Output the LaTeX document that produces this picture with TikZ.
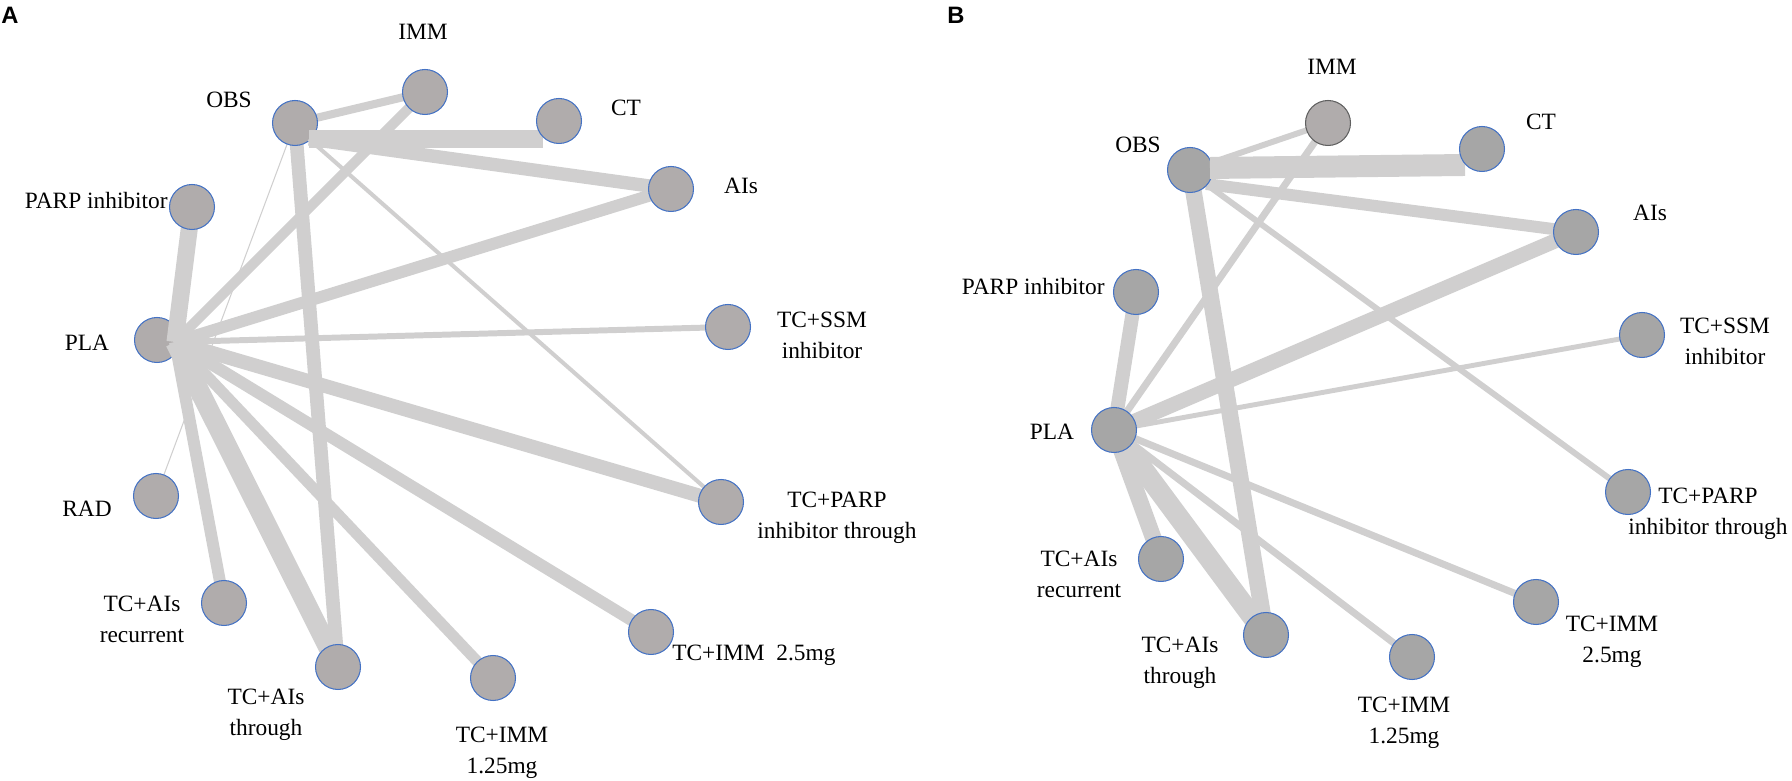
\documentclass[tikz,border=0pt]{standalone}
\usepackage{fontspec}
\setmainfont{Liberation Serif}
\newfontfamily\panelfont{Liberation Sans}
\usetikzlibrary{backgrounds}
\definecolor{linkgray}{RGB}{208,207,207}
\definecolor{dotgray}{RGB}{176,172,172}
\definecolor{dotgrayb}{RGB}{166,166,166}
\definecolor{rimblue}{RGB}{68,114,196}
\definecolor{rimgray}{RGB}{96,96,96}
\pgfdeclarelayer{back}
\pgfdeclarelayer{mid}
\pgfdeclarelayer{hub}
\pgfsetlayers{back,mid,hub,main}

\begin{document}
\begin{tikzpicture}[scale=0.2,
  every node/.style={inner sep=0pt, font=\rmfamily\fontsize{13.3}{17.6}\selectfont},
  trt/.style={circle, draw=rimblue, line width=0.6pt, fill=dotgray, minimum size=25.6pt},
  trtb/.style={trt, fill=dotgrayb},
  trtg/.style={trt, draw=rimgray},
  lnk/.style={draw=linkgray, line width=#1},
  lbl/.style={align=center},
  panel/.style={font=\panelfont\fontsize{13.5}{16}\selectfont\bfseries}]
\useasboundingbox (0,0) rectangle (179.2,-78.1);

\node [panel] (A) at (1.0,-1.5) {A};
\begin{pgfonlayer}{mid}
\node [trt] (OBSa) at (29.5,-12.3) {};
\node [trt] (PLAa) at (15.7,-34.0) {};
\end{pgfonlayer}
\node [trt] (IMMa) at (42.5,-9.2) {};
\node [trt] (CTa) at (55.9,-12.1) {};
\node [trt] (AIsa) at (67.1,-18.9) {};
\node [trt] (PARPa) at (19.2,-20.7) {};
\node [trt] (SSMa) at (72.8,-32.7) {};
\node [trt] (RADa) at (15.6,-49.6) {};
\node [trt] (TCPARPa) at (72.1,-50.2) {};
\node [trt] (RECa) at (22.4,-60.3) {};
\node [trt] (THRa) at (33.8,-66.7) {};
\node [trt] (IMMtwoa) at (65.1,-63.2) {};
\node [trt] (IMMonea) at (49.3,-67.8) {};
\coordinate (hPLAa) at (17.5,-34.2);
\coordinate (hOBSa) at (30.9,-13.9);
\coordinate (hCTa) at (54.3,-13.9);

\node (lIMMa) at (42.3,-3.2) {IMM};
\node (lOBSa) at (22.9,-10.0) {OBS};
\node (lCTa) at (62.6,-10.8) {CT};
\node (lAIsa) at (74.1,-18.6) {AIs};
\node [anchor=east] (lPARPa) at (16.8,-20.1) {PARP inhibitor};
\node (lPLAa) at (8.7,-34.3) {PLA};
\node [lbl] (lSSMa) at (82.2,-33.55) {TC+SSM\\inhibitor};
\node (lRADa) at (8.7,-50.9) {RAD};
\node [lbl] (lTCPARPa) at (83.7,-51.8) {TC+PARP\\inhibitor through};
\node [lbl] (lRECa) at (14.2,-61.95) {TC+AIs\\recurrent};
\node [lbl] (lTHRa) at (26.6,-71.45) {TC+AIs\\through};
\node [anchor=west] (lIMMtwoa) at (67.2,-65.5) {TC+IMM~~2.5mg};
\node [lbl] (lIMMonea) at (50.2,-75.3) {TC+IMM\\1.25mg};

\begin{pgfonlayer}{back}
\draw [lnk=4.6pt] (OBSa.center) -- (IMMa.center);
\draw [lnk=7.8pt] (OBSa.center) -- (THRa.center);
\draw [lnk=0.6pt] (OBSa.center) -- (RADa.center);
\end{pgfonlayer}
\begin{pgfonlayer}{hub}
\draw [lnk=9.9pt] (hOBSa) -- (hCTa);
\draw [lnk=7.6pt] (hOBSa) -- (AIsa.center);
\draw [lnk=2.3pt] (hOBSa) -- (TCPARPa.center);
\draw [lnk=5.7pt] (IMMa.center) -- (hPLAa);
\draw [lnk=9.7pt] (PARPa.center) -- (hPLAa);
\draw [lnk=6.8pt] (hPLAa) -- (AIsa.center);
\draw [lnk=3.4pt] (hPLAa) -- (SSMa.center);
\draw [lnk=8pt] (hPLAa) -- (TCPARPa.center);
\draw [lnk=6.8pt] (hPLAa) -- (IMMtwoa.center);
\draw [lnk=6.3pt] (hPLAa) -- (IMMonea.center);
\draw [lnk=11.2pt] (hPLAa) -- (THRa.center);
\draw [lnk=6.8pt] (hPLAa) -- (RECa.center);
\end{pgfonlayer}

\node [panel] (B) at (95.6,-1.5) {B};
\begin{pgfonlayer}{mid}
\node [trtb] (OBSb) at (119.0,-17.0) {};
\end{pgfonlayer}
\node [trtg] (IMMb) at (132.8,-12.3) {};
\node [trtb] (CTb) at (148.2,-14.9) {};
\node [trtb] (AIsb) at (157.6,-23.2) {};
\node [trtb] (PARPb) at (113.6,-29.2) {};
\node [trtb] (SSMb) at (164.2,-33.5) {};
\node [trtb] (PLAb) at (111.4,-43.0) {};
\node [trtb] (TCPARPb) at (162.8,-49.2) {};
\node [trtb] (RECb) at (116.1,-55.9) {};
\node [trtb] (THRb) at (126.6,-63.5) {};
\node [trtb] (IMMtwob) at (153.6,-60.2) {};
\node [trtb] (IMMoneb) at (141.2,-65.7) {};
\coordinate (hOBSb) at (121.0,-16.8);
\coordinate (hOBSlb) at (120.6,-18.4);
\coordinate (hCTb) at (146.5,-16.5);

\node (lIMMb) at (133.2,-6.7) {IMM};
\node (lOBSb) at (113.8,-14.5) {OBS};
\node (lCTb) at (154.1,-12.2) {CT};
\node (lAIsb) at (165.0,-21.3) {AIs};
\node [anchor=east] (lPARPb) at (110.5,-28.7) {PARP inhibitor};
\node [lbl] (lSSMb) at (172.5,-34.1) {TC+SSM\\inhibitor};
\node (lPLAb) at (105.2,-43.2) {PLA};
\node [lbl] (lTCPARPb) at (170.8,-51.4) {TC+PARP\\inhibitor through};
\node [lbl] (lRECb) at (107.9,-57.4) {TC+AIs\\recurrent};
\node [lbl] (lTHRb) at (118.0,-66.25) {TC+AIs\\through};
\node [lbl] (lIMMtwob) at (161.2,-64.15) {TC+IMM\\2.5mg};
\node [lbl] (lIMMoneb) at (140.4,-72.25) {TC+IMM\\1.25mg};

\begin{pgfonlayer}{back}
\draw [lnk=3.4pt] (OBSb.center) -- (IMMb.center);
\draw [lnk=6.8pt] (hOBSlb) -- (AIsb.center);
\draw [lnk=3.4pt] (hOBSlb) -- (TCPARPb.center);
\draw [lnk=9.4pt] (OBSb.center) -- (THRb.center);
\draw [lnk=4pt] (IMMb.center) -- (PLAb.center);
\draw [lnk=8pt] (PARPb.center) -- (PLAb.center);
\draw [lnk=8.5pt] (PLAb.center) -- (AIsb.center);
\draw [lnk=2.8pt] (PLAb.center) -- (SSMb.center);
\draw [lnk=9.4pt] (PLAb.center) -- (RECb.center);
\draw [lnk=11.8pt] (PLAb.center) -- (THRb.center);
\draw [lnk=4pt] (PLAb.center) -- (IMMtwob.center);
\draw [lnk=4pt] (PLAb.center) -- (IMMoneb.center);
\end{pgfonlayer}
\begin{pgfonlayer}{hub}
\draw [lnk=12.5pt] (hOBSb) -- (hCTb);
\end{pgfonlayer}
\end{tikzpicture}
\end{document}
